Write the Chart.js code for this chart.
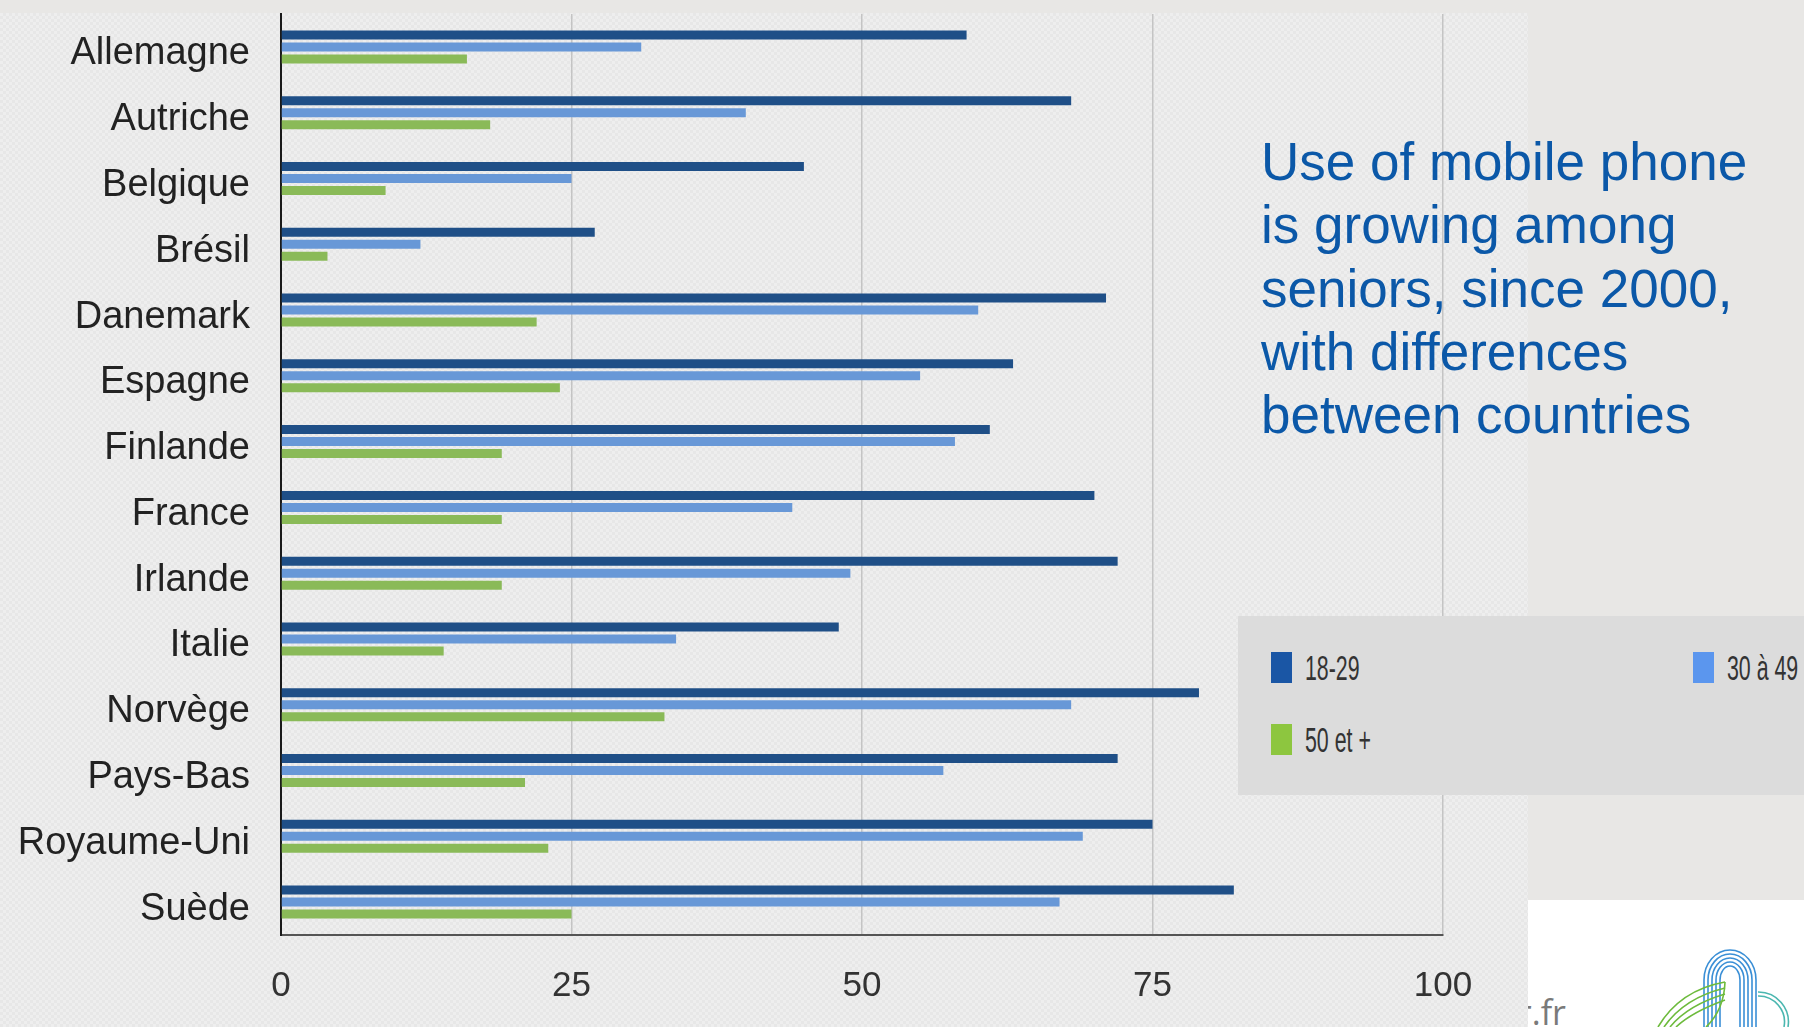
<!DOCTYPE html>
<html>
<head>
<meta charset="utf-8">
<script src="https://cdn.jsdelivr.net/npm/chart.js@4.4.1/dist/chart.umd.min.js"></script>
<style>
html,body{margin:0;padding:0;width:1804px;height:1027px;overflow:hidden;background:#e8e7e5;}
#plotbg{position:absolute;left:0;top:13px;width:1528px;height:1014px;background-color:#ebebeb;
  background-image:repeating-conic-gradient(#e7e7e7 0 25%, #eeeeee 0 50%);background-size:6px 6px;}
#c{position:absolute;left:0;top:0;}
#note{position:absolute;left:1261px;top:130px;font-family:"Liberation Sans",Arial,sans-serif;font-size:53px;line-height:63.3px;color:#0b58a8;white-space:nowrap;}
#legend{position:absolute;left:1238px;top:616px;width:566px;height:179px;background:#dcdcdc;}
.li{position:absolute;height:31px;}
.sw{position:absolute;left:0;top:0;width:21px;height:31px;}
.lt{position:absolute;left:34px;top:0;height:31px;line-height:31px;font-family:"Liberation Sans Narrow","Liberation Sans",Arial,sans-serif;font-size:35px;color:#333;white-space:nowrap;transform:scaleX(0.61);transform-origin:0 50%;}
#white{position:absolute;left:1528px;top:900px;width:276px;height:127px;background:#fff;overflow:hidden;}
#fr{position:absolute;right:238px;top:92px;font-family:"Open Sans","Liberation Sans",sans-serif;font-size:34px;line-height:40px;color:#7a7a7a;white-space:nowrap;}
#logo{position:absolute;left:112px;top:40px;}
</style>
</head>
<body>
<div id="plotbg"></div>
<canvas id="c" width="1804" height="1027"></canvas>
<div id="note">Use of mobile phone<br>is growing among<br>seniors, since 2000,<br>with differences<br>between countries</div>
<div id="legend"></div>
<div id="white">
  <div id="fr">r.fr</div>
  <svg id="logo" width="164" height="87" viewBox="0 0 164 87">
    <g fill="none" stroke="#3a8fd6" stroke-width="1.6">
      <path d="M72 87 L72 40 A18 22 0 0 1 108 40 L108 87"/>
      <path d="M76 87 L76 40 A14 18 0 0 1 104 40 L104 87"/>
      <path d="M80 87 L80 40 A10 14 0 0 1 100 40 L100 87"/>
      <path d="M68 87 L68 40 A22 26 0 0 1 112 40 L112 87"/>
      <path d="M64 87 L64 40 A26 30 0 0 1 116 40 L116 87"/>
    </g>
    <g fill="none" stroke="#4bb7b0" stroke-width="1.6">
      <path d="M118 52 A30 30 0 0 1 148 87"/>
      <path d="M118 56 A26 26 0 0 1 144 87"/>
    </g>
    <g fill="none" stroke="#6dbb3c" stroke-width="1.6">
      <path d="M18 87 Q40 50 85 42"/>
      <path d="M24 87 Q44 58 85 48"/>
      <path d="M30 87 Q48 65 85 54"/>
      <path d="M36 87 Q52 72 85 60"/>
      <path d="M85 42 Q84 70 66 87"/>
    </g>
  </svg>
</div>
<script>
const categories = ['Allemagne','Autriche','Belgique','Brésil','Danemark','Espagne','Finlande','France','Irlande','Italie','Norvège','Pays-Bas','Royaume-Uni','Suède'];
const age18to29 = [59,68,45,27,71,63,61,70,72,48,79,72,75,82];
const age30to49 = [31,40,25,12,60,55,58,44,49,34,68,57,69,67];
const age50plus = [16,18,9,4,22,24,19,19,19,14,33,21,23,25];
const seriesNames = ['18-29','30 à 49','50 et +'];
const xTicks = [0,25,50,75,100];

const barColors = ['#1f4f87','#6898d7','#8aba58'];
const legendColors = ['#1a56a5','#5b96ee','#8dc63f'];
const seriesValues = [age18to29, age30to49, age50plus];

// legend
const legendPos = [[33,36],[455,36],[33,108]];
const leg = document.getElementById('legend');
seriesNames.forEach((n,i)=>{
  const d = document.createElement('div');
  d.className='li';
  d.style.left = legendPos[i][0]+'px';
  d.style.top = legendPos[i][1]+'px';
  d.innerHTML = '<div class="sw" style="background:'+legendColors[i]+'"></div><div class="lt">'+n+'</div>';
  leg.appendChild(d);
});

new Chart(document.getElementById('c'), {
  type:'bar',
  data:{
    labels:categories,
    datasets: seriesNames.map((n,i)=>({
      label:n,
      data:seriesValues[i],
      backgroundColor:barColors[i],
      borderWidth:0,
      barPercentage:0.75,
      categoryPercentage:0.547
    }))
  },
  options:{
    indexAxis:'y',
    animation:false,
    responsive:false,
    devicePixelRatio:1,
    layout:{padding:{left:0,right:361,top:14,bottom:0}},
    plugins:{legend:{display:false},tooltip:{enabled:false}},
    scales:{
      x:{
        min:0,max:100,
        afterBuildTicks:(s)=>{s.ticks = xTicks.map(v=>({value:v}));},
        grid:{color:'#c4c4c4',lineWidth:1.5,drawTicks:false},
        border:{color:'#555555',width:2},
        ticks:{padding:30,color:'#333333',font:{family:'Liberation Sans',size:35}},
        afterFit:(s)=>{s.height=92;s.paddingLeft=0;s.paddingRight=0;}
      },
      y:{
        grid:{display:false,drawTicks:false},
        border:{color:'#1a1a1a',width:2},
        ticks:{padding:31,labelOffset:7,color:'#222222',font:{family:'Liberation Sans',size:38}},
        afterFit:(s)=>{s.width=281;s.paddingTop=0;s.paddingBottom=0;}
      }
    }
  }
});
</script>
</body>
</html>
